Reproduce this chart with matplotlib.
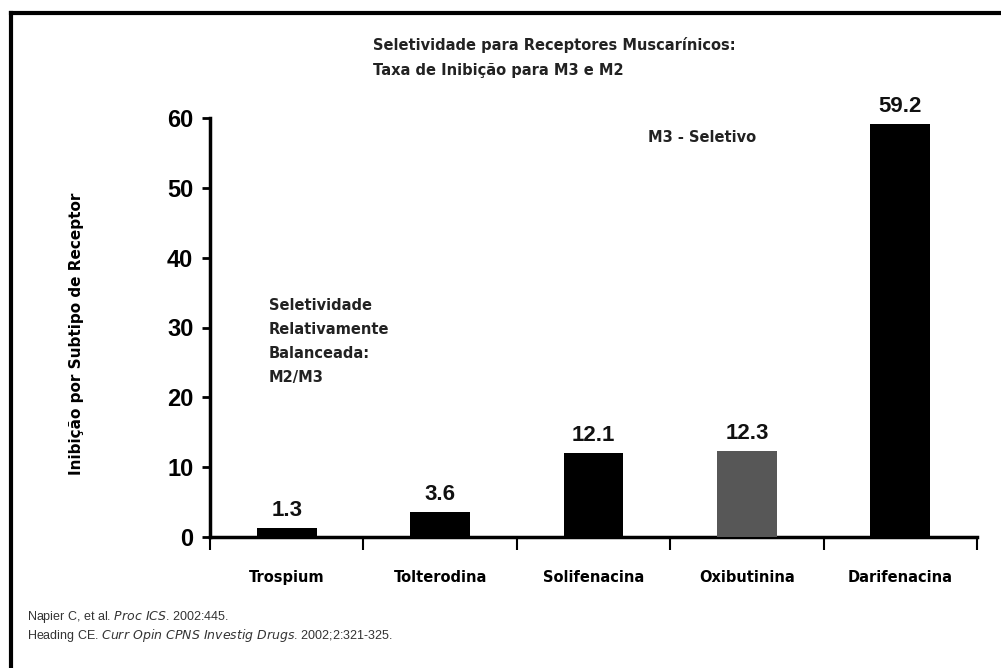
import matplotlib
matplotlib.use("Agg")
import matplotlib.pyplot as plt
from matplotlib.lines import Line2D
import numpy as np

categories = ["Trospium", "Tolterodina", "Solifenacina", "Oxibutinina", "Darifenacina"]
values = [1.3, 3.6, 12.1, 12.3, 59.2]
value_labels = ["1.3", "3.6", "12.1", "12.3", "59.2"]
bar_colors = ["#000000", "#000000", "#000000", "#575757", "#000000"]
yticks = [0, 10, 20, 30, 40, 50, 60]

W, H = 1001, 668
fig = plt.figure(figsize=(W / 100, H / 100), dpi=100)
fig.patch.set_facecolor("white")

def fx(px):
    return px / W

def fy(py):
    return 1 - py / H

AX_L, AX_R, AX_T, AX_B = 210, 977, 118, 537
ax = fig.add_axes([fx(AX_L), fy(AX_B), fx(AX_R) - fx(AX_L), fy(AX_T) - fy(AX_B)])
x = np.arange(len(categories))
ax.bar(x, values, width=0.39, color=bar_colors, zorder=3)
ax.set_xlim(-0.5, len(categories) - 0.5)
ax.set_ylim(0, 60)
ax.set_yticks(yticks)
ax.set_yticklabels([str(t) for t in yticks], fontsize=17, fontweight="bold",
                   family="Liberation Sans")
ax.tick_params(axis="y", length=6, width=2, pad=6)
ax.set_xticks(x)
ax.set_xticklabels(categories, fontsize=10.5, fontweight="bold", family="DejaVu Sans")
ax.tick_params(axis="x", length=0, pad=24)
ax.set_xticks(np.arange(len(categories) + 1) - 0.5, minor=True)
ax.tick_params(axis="x", which="minor", length=9, width=1.5, direction="out")
for s in ["top", "right"]:
    ax.spines[s].set_visible(False)
for s in ["left", "bottom"]:
    ax.spines[s].set_linewidth(2.5)
ax.set_facecolor("white")

for xi, v, lab in zip(x, values, value_labels):
    ax.annotate(lab, (xi, v), xytext=(0, 5), textcoords="offset points",
                ha="center", va="bottom", fontsize=16, fontweight="bold",
                family="Liberation Sans", color="#111111")

ax.set_ylabel("Inibição por Subtipo de Receptor", fontsize=11, fontweight="bold",
              family="DejaVu Sans")
ax.yaxis.set_label_coords((84 - AX_L) / (AX_R - AX_L), (AX_B - 334) / (AX_B - AX_T))

# Title
fig.text(fx(373), fy(45), "Seletividade para Receptores Muscarínicos:", fontsize=10.5,
         fontweight="bold", ha="left", va="center", color="#222222")
fig.text(fx(373), fy(70), "Taxa de Inibição para M3 e M2", fontsize=10.5,
         fontweight="bold", ha="left", va="center", color="#222222")

# annotations
fig.text(fx(648), fy(138), "M3 - Seletivo", fontsize=10.5, fontweight="bold",
         ha="left", va="center", color="#222222")
fig.text(fx(269), fy(298), "Seletividade\nRelativamente\nBalanceada:\nM2/M3",
         fontsize=10.5, fontweight="bold", ha="left", va="top", color="#222222",
         linespacing=1.75)

# references
fig.text(fx(27), fy(617), "Napier C, et al. $\\it{Proc\\ ICS}$. 2002:445.", fontsize=9,
         ha="left", va="center", family="Liberation Sans", color="#333333")
fig.text(fx(27), fy(636),
         "Heading CE. $\\it{Curr\\ Opin\\ CPNS\\ Investig\\ Drugs}$. 2002;2:321-325.",
         fontsize=9, ha="left", va="center", family="Liberation Sans", color="#333333")

# frame lines (top and left)
fig.add_artist(Line2D([fx(11), 1.0], [fy(13), fy(13)], color="black", lw=3,
                      transform=fig.transFigure))
fig.add_artist(Line2D([fx(11), fx(11)], [fy(13), 0.0], color="black", lw=3,
                      transform=fig.transFigure))

fig.savefig("out.png", dpi=100, facecolor="white")
